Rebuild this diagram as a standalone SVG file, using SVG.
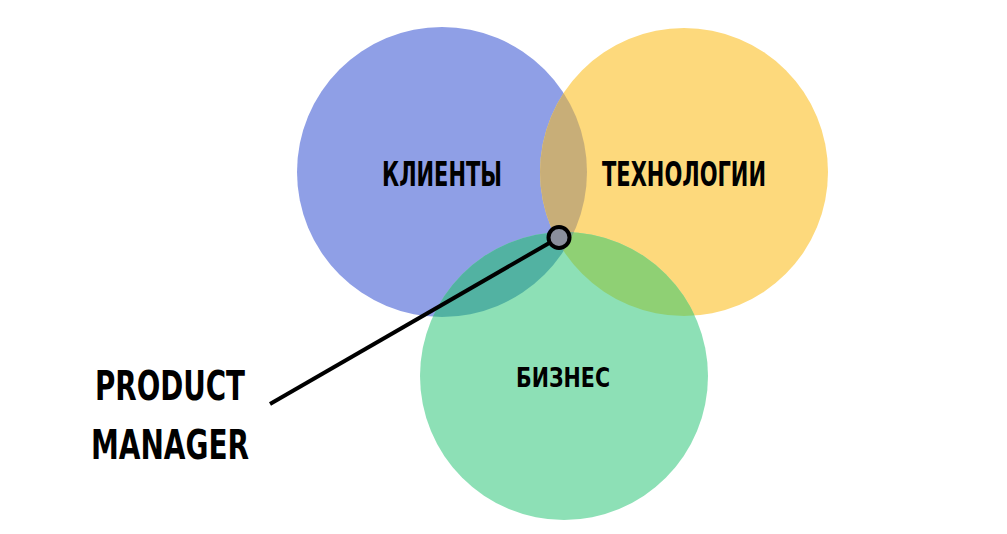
<svg xmlns="http://www.w3.org/2000/svg" width="1007" height="534" viewBox="0 0 1007 534">
<style>
.lbl{font-family:"DejaVu Sans Condensed","DejaVu Sans","Liberation Sans",sans-serif;font-weight:bold;font-stretch:condensed;fill:#000}
</style>
<defs>
<clipPath id="cb"><circle cx="442" cy="172" r="145"/></clipPath>
<clipPath id="cy"><circle cx="684" cy="172" r="144"/></clipPath>
<clipPath id="cg"><circle cx="564" cy="376" r="144"/></clipPath>
</defs>
<rect width="1007" height="534" fill="#ffffff"/>
<g id="clients">
<circle cx="442" cy="172" r="145" fill="#8f9fe6"/>
</g>
<g id="tech">
<circle cx="684" cy="172" r="144" fill="#fdd97c"/>
</g>
<g id="business">
<circle cx="564" cy="376" r="144" fill="#8de0b6"/>
</g>
<g id="overlaps">
<circle cx="684" cy="172" r="144" fill="#c8ae78" clip-path="url(#cb)"/>
<circle cx="564" cy="376" r="144" fill="#52b2a2" clip-path="url(#cb)"/>
<circle cx="564" cy="376" r="144" fill="#8fd074" clip-path="url(#cy)"/>
<g clip-path="url(#cb)"><circle cx="564" cy="376" r="144" fill="#7fa88a" clip-path="url(#cy)"/></g>
</g>
<g id="labels">
<text class="lbl" x="382" y="186" font-size="33" textLength="120" lengthAdjust="spacingAndGlyphs">КЛИЕНТЫ</text>
<text class="lbl" x="602" y="186" font-size="33" textLength="164" lengthAdjust="spacingAndGlyphs">ТЕХНОЛОГИИ</text>
<text class="lbl" x="516" y="387" font-size="27" textLength="94" lengthAdjust="spacingAndGlyphs">БИЗНЕС</text>
</g>
<g id="connectors">
<line x1="270" y1="404" x2="551" y2="242" stroke="#000" stroke-width="4"/>
</g>
<g id="pm">
<circle cx="559" cy="237.5" r="10.5" fill="#8a8f9c" stroke="#000" stroke-width="4"/>
<text class="lbl" x="95" y="400" font-size="41" textLength="150" lengthAdjust="spacingAndGlyphs">PRODUCT</text>
<text class="lbl" x="91" y="459" font-size="41" textLength="158" lengthAdjust="spacingAndGlyphs">MANAGER</text>
</g>
</svg>
